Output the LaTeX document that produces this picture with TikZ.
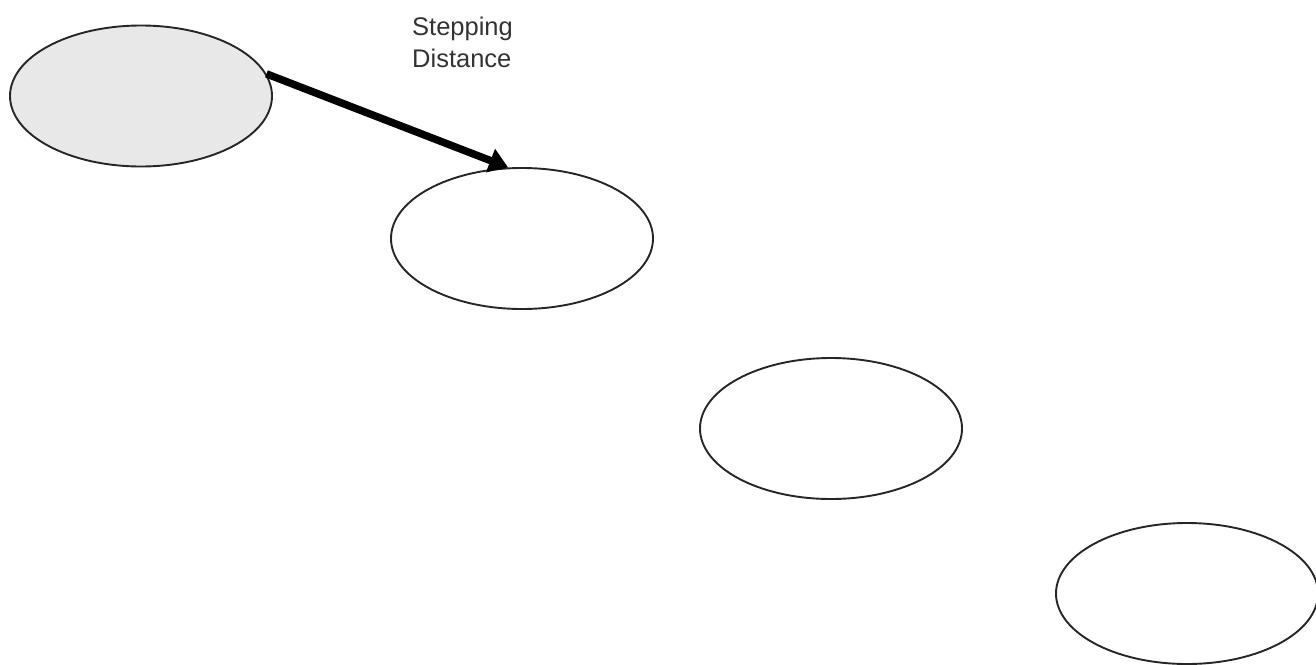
\documentclass[tikz,border=0pt]{standalone}
\usepackage{fontspec}
\setmainfont{Liberation Sans}
\usetikzlibrary{shapes.geometric,arrows.meta}
\begin{document}
\begin{tikzpicture}[x=1pt,y=-1pt,
  foot/.style={ellipse,draw=black!85,line width=1.9pt,inner sep=0pt,minimum width=262pt,minimum height=141pt},
  steparrow/.style={line width=7.5pt,-{Triangle[width=24pt,length=19pt]}}]
\useasboundingbox (0,0) rectangle (1316,664);
\node[foot,fill=black!9] (e1) at (141,96) {};
\node[foot] (e2) at (522,238.5) {};
\node[foot] (e3) at (831,428.5) {};
\node[foot] (e4) at (1187,593.5) {};
\node[anchor=base west,align=left,font=\fontsize{25.5}{32}\selectfont,text=black!80,inner sep=0pt] (lbl) at (412,67) {Stepping\\Distance};
\draw[steparrow] (e1.10) -- (e2.101);
\end{tikzpicture}
\end{document}
